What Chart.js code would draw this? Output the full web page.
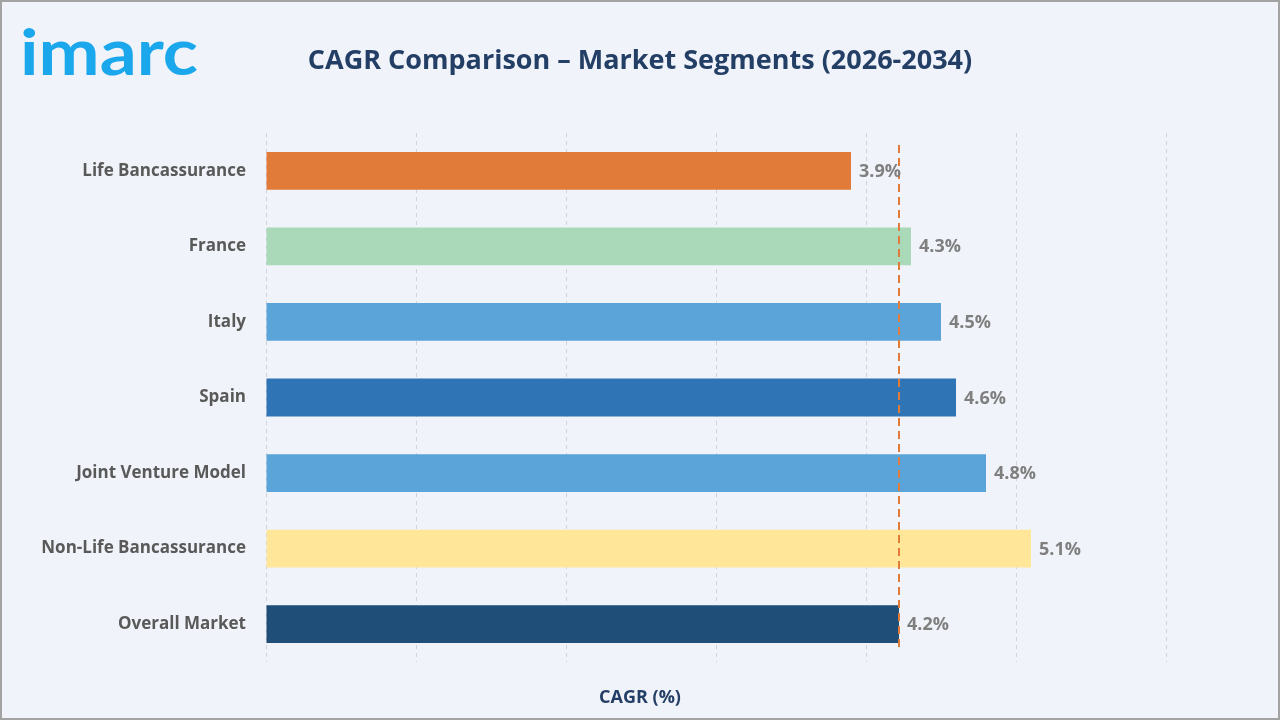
<!DOCTYPE html>
<html>
<head>
<meta charset="utf-8">
<script src="https://cdn.jsdelivr.net/npm/chart.js@4.4.1/dist/chart.umd.min.js"></script>
<style>
  html, body { margin: 0; padding: 0; background: #f0f3f9; }
  #wrap { width: 1280px; height: 720px; }
</style>
</head>
<body>
<div id="wrap"><canvas id="cagrChart" width="1280" height="720"></canvas></div>
<script>
// CAGR comparison, 2026-2034
const segments = ['Life Bancassurance', 'France', 'Italy', 'Spain', 'Joint Venture Model', 'Non-Life Bancassurance', 'Overall Market'];
const cagrValues = [3.9, 4.3, 4.5, 4.6, 4.8, 5.1, 4.22];
const barColors = ['#e07b39', '#a9d9b9', '#5ba4d9', '#2f75b6', '#5ba4d9', '#ffe699', '#1f4e79'];
const overallCagr = 4.22;
const axisMax = 6;

const chartTitle = 'CAGR Comparison – Market Segments (2026-2034)';
const axisTitle = 'CAGR (%)';
const FONT = '"Open Sans", "Noto Sans", sans-serif';

const framePlugin = {
  id: 'frame',
  beforeDraw(chart) {
    const { ctx, width, height } = chart;
    ctx.save();
    ctx.fillStyle = '#f0f3f9';
    ctx.fillRect(0, 0, width, height);
    ctx.strokeStyle = '#a3a3a3';
    ctx.lineWidth = 2;
    ctx.strokeRect(1, 1, width - 2, height - 2);

    // titles, centred on the canvas
    ctx.fillStyle = '#243f66';
    ctx.textAlign = 'center';
    ctx.textBaseline = 'middle';
    ctx.font = `bold 27px ${FONT}`;
    ctx.fillText(chartTitle, width / 2, 61);
    ctx.font = `bold 18px ${FONT}`;
    ctx.fillText(axisTitle, width / 2, 698);

    // logo
    ctx.fillStyle = '#1ba7ec';
    ctx.font = '700 64px Lato, sans-serif';
    ctx.textAlign = 'left';
    ctx.textBaseline = 'alphabetic';
    const w = ctx.measureText('imarc').width;
    ctx.translate(20, 75);
    ctx.scale(178 / w, 1);
    ctx.fillText('imarc', 0, 0);
    ctx.restore();
  },
  afterDatasetsDraw(chart) {
    const { ctx, chartArea } = chart;
    const x = chart.scales.x.getPixelForValue(overallCagr);
    ctx.save();
    ctx.strokeStyle = '#e07b39';
    ctx.lineWidth = 2;
    ctx.setLineDash([8, 5]);
    ctx.beginPath();
    ctx.moveTo(x, chartArea.top + 12);
    ctx.lineTo(x, chartArea.bottom - 10);
    ctx.stroke();
    ctx.setLineDash([]);

    // value labels
    ctx.fillStyle = '#7f7f7f';
    ctx.font = `bold 18px ${FONT}`;
    ctx.textBaseline = 'middle';
    ctx.textAlign = 'left';
    chart.getDatasetMeta(0).data.forEach((bar, i) => {
      ctx.fillText(cagrValues[i].toFixed(1) + '%', bar.x + 8, bar.y + 1);
    });
    ctx.restore();
  }
};

function renderChart() {
  new Chart(document.getElementById('cagrChart'), {
    type: 'bar',
    data: {
      labels: segments,
      datasets: [{
        data: cagrValues,
        backgroundColor: barColors,
        barPercentage: 0.5,
        categoryPercentage: 1.0
      }]
    },
    options: {
      indexAxis: 'y',
      responsive: false,
      animation: false,
      layout: { padding: { left: 20, right: 114, top: 133, bottom: 58 } },
      plugins: {
        legend: { display: false },
        tooltip: { enabled: false }
      },
      scales: {
        x: {
          min: 0,
          max: axisMax,
          ticks: { display: false, stepSize: 1 },
          border: { display: false, dash: [4, 4] },
          grid: { color: '#cfd3da', drawTicks: false, lineWidth: 1 },
          afterFit: s => { s.height = 0; }
        },
        y: {
          grid: { display: false },
          border: { display: false },
          ticks: {
            color: '#595959',
            padding: 12,
            font: { family: FONT, size: 17, weight: 'bold' }
          },
          afterFit: s => { s.width = 246; }
        }
      }
    },
    plugins: [framePlugin]
  });
}

Promise.all([
  document.fonts.load(`bold 17px ${FONT}`),
  document.fonts.load('700 64px Lato')
]).then(renderChart, renderChart);
</script>
</body>
</html>
